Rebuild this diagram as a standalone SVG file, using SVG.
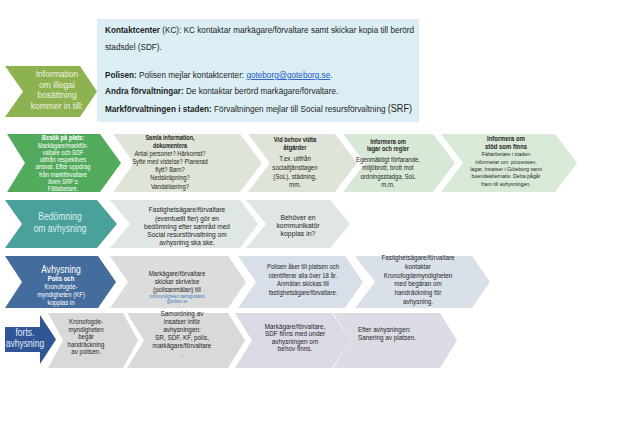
<svg xmlns="http://www.w3.org/2000/svg" width="628" height="423" viewBox="0 0 628 423">
<style>
text{font-family:"Liberation Sans",Arial,sans-serif;}
.c{text-anchor:middle;fill:#262626;font-size:7px;}
.b{font-weight:bold;}
.w{fill:#ffffff;}
.bx{font-size:9px;fill:#1e1e1e;}
.lk{fill:#1a56c4;text-decoration:underline;}
</style>
<rect width="628" height="423" fill="#ffffff"/>
<g id="connectors"></g>

<!-- Row 1 -->
<g id="info-arrow">
<polygon points="5,66 80,66 97,91.5 80,117 5,117 23,91.5" fill="#8db351"/>
<g transform="translate(57 0)">
<text class="c" style="font-size:8.5px;fill:#eef4e0" y="77">Information</text>
<text class="c" style="font-size:8.5px;fill:#eef4e0" y="87.5">om illegal</text>
<text class="c" style="font-size:8.5px;fill:#eef4e0" y="98">bosättning</text>
<text class="c" style="font-size:8.5px;fill:#eef4e0" y="108.5">kommer in till:</text>
</g>
</g>
<g id="info-box">
<rect x="97" y="19" width="322" height="103" fill="#dbeef4"/>
<g transform="translate(105 0) scale(0.91 1)">
<text class="bx" x="0" y="33.3"><tspan class="b">Kontaktcenter</tspan> (KC): KC kontaktar markägare/förvaltare samt skickar kopia till berörd</text>
<text class="bx" x="0" y="50">stadsdel (SDF).</text>
<text class="bx" x="0" y="78"><tspan class="b">Polisen:</tspan> Polisen mejlar kontaktcenter: <tspan class="lk">goteborg@goteborg.se</tspan>.</text>
<text class="bx" x="0" y="94"><tspan class="b">Andra förvaltningar:</tspan> De kontaktar berörd markägare/förvaltare.</text>
<text class="bx" x="0" y="112"><tspan class="b">Markförvaltningen i staden:</tspan> Förvaltningen mejlar till Social resursförvaltning <tspan style="font-size:10px">(SRF)</tspan></text>
</g>
</g>

<!-- Row 2 -->
<g id="besok">
<polygon points="7,134 100,134 121,163 100,192 7,192 25,163" fill="#52aa5c"/>
<g transform="translate(63 0) scale(0.82 1)">
<text class="c w b" y="140.5">Besök på plats:</text>
<text class="c w" y="148">Markägare/markför-</text>
<text class="c w" y="155">valtare och SDF</text>
<text class="c w" y="162">utifrån respektives</text>
<text class="c w" y="169.5">ansvar. Efter uppdrag</text>
<text class="c w" y="177">från markförvaltare</text>
<text class="c w" y="184">även SRF:s</text>
<text class="c w" y="191.5">Fältabetare.</text>
</g>
</g>
<g id="samla">
<polygon points="113,134 240,134 262,163 240,192 113,192 134,163" fill="#dfe4d8"/>
<g transform="translate(170 0) scale(0.78 1)">
<text class="c b" y="140.5">Samla information,</text>
<text class="c b" y="148">dokumentera</text>
<text class="c" style="font-size:7.5px" y="156">Antal personer? Härkomst?</text>
<text class="c" style="font-size:7.5px" y="164.5">Syfte med vistelse? Planerad</text>
<text class="c" style="font-size:7.5px" y="172.5">flytt?  Barn?</text>
<text class="c" style="font-size:7.5px" y="180.5">Nedskräpning?</text>
<text class="c" style="font-size:7.5px" y="189">Vandalisering?</text>
</g>
</g>
<g id="vidta">
<polygon points="248,134 335,134 357,163 335,192 248,192 270,163" fill="#dfe4d9"/>
<g transform="translate(295 0) scale(0.82 1)">
<text class="c b" y="142">Vid  behov vidta</text>
<text class="c b" y="150.5">åtgärder</text>
<text class="c" style="font-size:7.5px" y="161.5">T.ex. utifrån</text>
<text class="c" style="font-size:7.5px" y="170">socialtjänstlagen</text>
<text class="c" style="font-size:7.5px" y="179">(SoL), städning,</text>
<text class="c" style="font-size:7.5px" y="187.5">mm.</text>
</g>
</g>
<g id="lagar">
<polygon points="343,134 433,134 455,163 433,192 343,192 365,163" fill="#d7e8d6"/>
<g transform="translate(388 0) scale(0.8 1)">
<text class="c b" y="144">Informera  om</text>
<text class="c b" y="151.5">lagar och regler</text>
<text class="c" style="font-size:7.5px" y="162.5">Egenmäktigt förfarande,</text>
<text class="c" style="font-size:7.5px" y="170.5">miljöbrott, brott mot</text>
<text class="c" style="font-size:7.5px" y="179">ordningsstadga, SoL</text>
<text class="c" style="font-size:7.5px" y="187">m.m.</text>
</g>
</g>
<g id="stod">
<polygon points="441,134 555,134 577,163 555,192 441,192 463,163" fill="#d9e9d8"/>
<g transform="translate(506 0) scale(0.85 1)">
<text class="c b" y="141">Informera om</text>
<text class="c b" y="149">stöd som finns</text>
<text class="c" style="font-size:6.2px" y="156.5">Fältarbetare i staden</text>
<text class="c" style="font-size:6.2px" y="163.8">informerar om: processen,</text>
<text class="c" style="font-size:6.2px" y="171.1">lagar, insatser i Göteborg samt</text>
<text class="c" style="font-size:6.2px" y="178.4">boendealternativ. Detta pågår</text>
<text class="c" style="font-size:6.2px" y="185.7">fram till avhysningen.</text>
</g>
</g>

<!-- Row 3 -->
<g id="bedomning">
<polygon points="5,200 97,200 117,224 97,248 5,248 22,224" fill="#4aa09a"/>
<g transform="translate(60 0) scale(0.86 1)">
<text class="c" style="font-size:10px;fill:#dff1ee" y="220">Bedömning</text>
<text class="c" style="font-size:10px;fill:#dff1ee" y="232.5">om avhysning</text>
</g>
</g>
<g id="fastighet-bedomning">
<polygon points="110,200 240,200 258,224 240,248 110,248 130,224" fill="#dfe6e3"/>
<g transform="translate(187 0) scale(0.88 1)">
<text class="c" style="font-size:7.5px" y="212.5">Fastighetsägare/förvaltare</text>
<text class="c" style="font-size:7.5px" y="221">(eventuellt  fler) gör en</text>
<text class="c" style="font-size:7.5px" y="229.5">bedömning efter samråd med</text>
<text class="c" style="font-size:7.5px" y="237.5">Social resursförvaltning om</text>
<text class="c" style="font-size:7.5px" y="245.5">avhysning ska ske.</text>
</g>
</g>
<g id="kommunikator">
<polygon points="246,200 330,200 350,224 330,248 246,248 266,224" fill="#dfe6e3"/>
<g transform="translate(298 0) scale(0.92 1)">
<text class="c" style="font-size:7.5px" y="220.5">Behöver en</text>
<text class="c" style="font-size:7.5px" y="228.5">kommunikatör</text>
<text class="c" style="font-size:7.5px" y="236.5">kopplas in?</text>
</g>
</g>

<!-- Row 4 -->
<g id="avhysning">
<polygon points="5,256 98,256 116,282 98,308 5,308 22,282" fill="#446c9d"/>
<g transform="translate(61 0) scale(0.86 1)">
<text class="c w" style="font-size:10px" y="273">Avhysning</text>
<text class="c w b" y="281.5">Polis och</text>
<text class="c w" y="289.5">Kronofogde-</text>
<text class="c w" y="297.5">myndigheten (KF)</text>
<text class="c w" y="305.5">kopplas in</text>
</g>
</g>
<g id="skrivelse">
<polygon points="110,256 228,256 246,282 228,308 110,308 128,282" fill="#dcdcdc"/>
<g transform="translate(177 0) scale(0.82 1)">
<text class="c" style="font-size:7.5px" y="276.5">Markägare/förvaltare</text>
<text class="c" style="font-size:7.5px" y="284.5">skickar skrivelse</text>
<text class="c" style="font-size:7.5px" y="292.5">(polisanmälan) till</text>
<text class="c" style="font-size:4.6px;fill:#3a7cc0" y="297.8">polismyndigheten.vastragotaland</text>
<text class="c" style="font-size:4.6px;fill:#3a7cc0" y="303">@polisen.se</text>
</g>
</g>
<g id="polisen-aker">
<polygon points="238,256 345,256 363,282 345,308 238,308 256,282" fill="#d8dfe8"/>
<g transform="translate(303 0) scale(0.85 1)">
<text class="c" y="269.5">Polisen åker till platsen och</text>
<text class="c" y="278">identifierar alla över 18 år.</text>
<text class="c" y="286.5">Anmälan skickas till</text>
<text class="c" y="295">fastighetsägare/förvaltare.</text>
</g>
</g>
<g id="kronofogde-kontakt">
<polygon points="355,256 472,256 490,282 472,308 355,308 375,282" fill="#d9e0e8"/>
<g transform="translate(418 0) scale(0.9 1)">
<text class="c" y="260">Fastighetsägare/förvaltare</text>
<text class="c" y="268.8">kontaktar</text>
<text class="c" y="277.6">Kronofogdemyndigheten</text>
<text class="c" y="286.4">med begäran om</text>
<text class="c" y="295.2">handräckning för</text>
<text class="c" y="304">avhysning.</text>
</g>
</g>

<!-- Row 5 -->
<g id="handrackning">
<polygon points="48,313 123,313 138,340.5 123,368 48,368 63,340.5" fill="#d9d9d9"/>
<g transform="translate(86 0) scale(0.82 1)">
<text class="c" style="font-size:7.5px" y="324.5">Kronofogde-</text>
<text class="c" style="font-size:7.5px" y="332">myndigheten</text>
<text class="c" style="font-size:7.5px" y="339.5">begär</text>
<text class="c" style="font-size:7.5px" y="347">handräckning</text>
<text class="c" style="font-size:7.5px" y="354.5">av polisen.</text>
</g>
</g>
<g id="forts-arrow">
<polygon points="5,327 40,327 40,315 56,339.5 40,364 40,352 5,352" fill="#2f5597"/>
<g transform="translate(25 0) scale(0.86 1)">
<text class="c" style="font-size:10px;fill:#e2e9f6" y="336">forts.</text>
<text class="c" style="font-size:10px;fill:#e2e9f6" y="347">avhysning</text>
</g>
</g>
<g id="samordning">
<polygon points="127,313 228,313 245,340.5 228,368 127,368 144,340.5" fill="#d9d9d9"/>
<g transform="translate(182 0) scale(0.85 1)">
<text class="c" style="font-size:7.5px" y="316">Samordning av</text>
<text class="c" style="font-size:7.5px" y="324">insatser inför</text>
<text class="c" style="font-size:7.5px" y="332">avhysningen:</text>
<text class="c" style="font-size:7.5px" y="340">SR, SDF, KF, polis,</text>
<text class="c" style="font-size:7.5px" y="348">markägare/förvaltare</text>
<text class="c" style="font-size:7.5px" y="356">.</text>
</g>
</g>
<g id="sdf-under">
<polygon points="235,313 332,313 350,340.5 332,368 235,368 252,340.5" fill="#dadae4"/>
<g transform="translate(295 0) scale(0.85 1)">
<text class="c" style="font-size:7.5px" y="329">Markägare/förvaltare,</text>
<text class="c" style="font-size:7.5px" y="336.5">SDF finns med under</text>
<text class="c" style="font-size:7.5px" y="344">avhysningen om</text>
<text class="c" style="font-size:7.5px" y="351.5">behov finns.</text>
</g>
</g>
<g id="sanering">
<polygon points="333,313 440,313 457,340.5 440,368 333,368 350,340.5" fill="#dcdce4"/>
<g transform="translate(358 0) scale(0.85 1)">
<text style="font-size:7.5px;fill:#262626" x="0" y="332">Efter avhysningen:</text>
<text style="font-size:7.5px;fill:#262626" x="0" y="340"> Sanering av platsen.</text>
</g>
</g>
</svg>
